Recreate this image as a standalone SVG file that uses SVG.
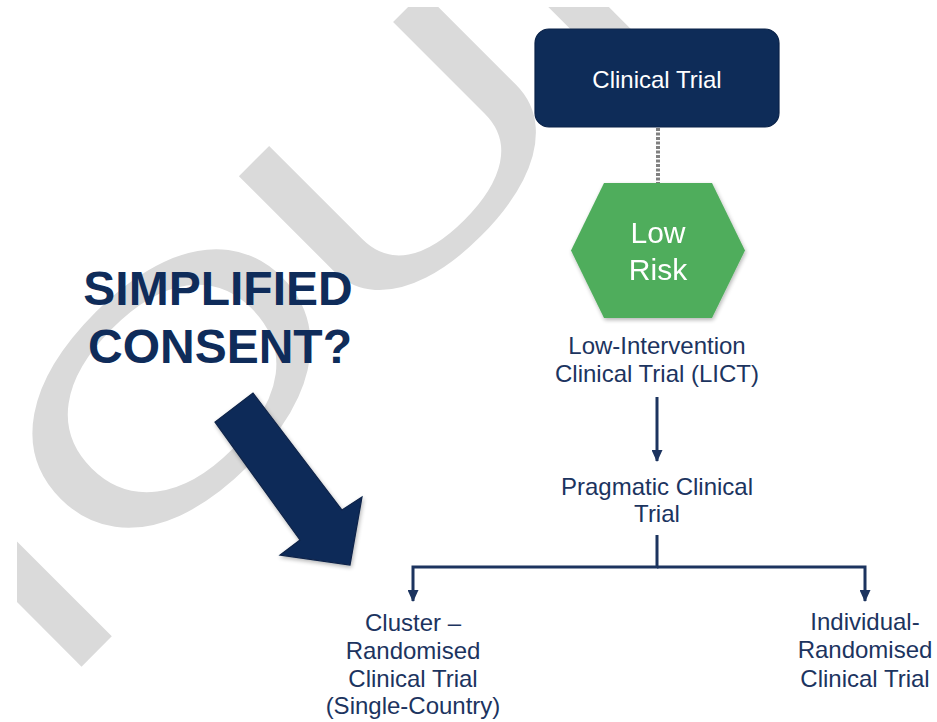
<svg xmlns="http://www.w3.org/2000/svg" width="937" height="722" viewBox="0 0 937 722">
  <defs>
    <style>
      .lbl { font-family: "Liberation Sans", Arial, sans-serif; font-size: 24px; fill: #1c345f; text-anchor: middle; }
      .inv { font-family: "Liberation Sans", Arial, sans-serif; fill: #ffffff; text-anchor: middle; }
      .head { font-family: "Liberation Sans", Arial, sans-serif; font-weight: bold; font-size: 48px; fill: #0f2c5a; text-anchor: middle; }
      .wm { font-family: "Liberation Sans", Arial, sans-serif; font-size: 306px; fill: #dadada; }
      .conn { fill: none; stroke: #1c345f; stroke-width: 3; }
      .dotted { fill: none; stroke: #808080; stroke-width: 4; stroke-dasharray: 3 1.5; }
      .navy { fill: #0e2c58; stroke: #0a2248; stroke-width: 1.2; }
    </style>
    <marker id="arrowhead" viewBox="0 0 12 11" refX="11" refY="5.5" markerWidth="12" markerHeight="11" markerUnits="userSpaceOnUse" orient="auto">
      <path d="M0,0 L12,5.5 L0,11 Z" fill="#1c345f"/>
    </marker>
    <clipPath id="wm-clip">
      <rect x="17" y="7" width="920" height="715"/>
    </clipPath>
    <filter id="soft-shadow" x="-10%" y="-10%" width="130%" height="130%">
      <feGaussianBlur in="SourceAlpha" stdDeviation="2"/>
      <feOffset dx="1" dy="2" result="blur"/>
      <feComponentTransfer><feFuncA type="linear" slope="0.3"/></feComponentTransfer>
      <feMerge><feMergeNode/><feMergeNode in="SourceGraphic"/></feMerge>
    </filter>
  </defs>

  <rect width="937" height="722" fill="#ffffff"/>

  <!-- background watermark lettering, rotated and stretched -->
  <g id="watermark" clip-path="url(#wm-clip)">
    <g transform="translate(362.7,350.1) rotate(-45) scale(1.5,1)">
      <text class="wm" x="-310" y="25">I</text>
      <text class="wm" x="-227" y="-2" font-size="285">O</text>
      <text class="wm" x="0" y="0">U</text>
      <text class="wm" x="221" y="0">I</text>
    </g>
  </g>

  <!-- headline and pointer -->
  <g id="simplified-consent">
    <text class="head" x="218" y="305">SIMPLIFIED</text>
    <text class="head" x="220" y="363">CONSENT?</text>
  </g>
  <g id="pointer-arrow" filter="url(#soft-shadow)">
    <polygon class="navy" points="253,393 342,510 362,497 350,565 280,555 300,540 215,422"/>
  </g>

  <!-- connectors -->
  <g id="connectors">
    <line class="dotted" x1="658" y1="128" x2="658" y2="183"/>
    <path class="conn" d="M657,397 V461" marker-end="url(#arrowhead)"/>
    <path class="conn" d="M657,535 V567 H413 V601" marker-end="url(#arrowhead)"/>
    <path class="conn" d="M657,567 H865 V601" marker-end="url(#arrowhead)"/>
  </g>

  <!-- nodes -->
  <g id="clinical-trial">
    <rect class="navy" x="535" y="29" width="244" height="98" rx="14" ry="14"/>
    <text class="inv" x="657" y="88" font-size="24">Clinical Trial</text>
  </g>

  <g id="low-risk" filter="url(#soft-shadow)">
    <polygon points="604,183 712,183 745,250.5 712,318 604,318 571,250.5" fill="#50ad5c"/>
    <text class="inv" x="658" y="243" font-size="30">Low</text>
    <text class="inv" x="658" y="280" font-size="30">Risk</text>
  </g>

  <g id="licl">
    <text class="lbl" x="657" y="354">Low-Intervention</text>
    <text class="lbl" x="657" y="382">Clinical Trial (LICT)</text>
  </g>

  <g id="pragmatic">
    <text class="lbl" x="657" y="495">Pragmatic Clinical</text>
    <text class="lbl" x="657" y="522">Trial</text>
  </g>

  <g id="cluster-randomised">
    <text class="lbl" x="413" y="631">Cluster –</text>
    <text class="lbl" x="413" y="659">Randomised</text>
    <text class="lbl" x="413" y="687">Clinical Trial</text>
    <text class="lbl" x="413" y="714">(Single-Country)</text>
  </g>

  <g id="individual-randomised">
    <text class="lbl" x="865" y="630">Individual-</text>
    <text class="lbl" x="865" y="658">Randomised</text>
    <text class="lbl" x="865" y="687">Clinical Trial</text>
  </g>
</svg>
